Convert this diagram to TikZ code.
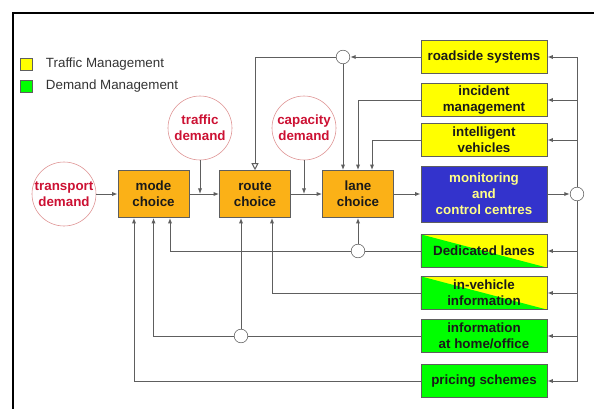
\documentclass[tikz,border=0pt]{standalone}
\usepackage{fontspec}
\setmainfont{Liberation Sans}
\usetikzlibrary{arrows.meta,calc,positioning}

\definecolor{boxorange}{HTML}{FBB117}
\definecolor{boxblue}{HTML}{3333CC}
\definecolor{boxyellow}{HTML}{FFFF00}
\definecolor{boxgreen}{HTML}{00FF00}
\definecolor{montext}{HTML}{FFFF88}
\definecolor{demandred}{HTML}{CC1133}
\definecolor{demandring}{HTML}{DD8F8F}
\definecolor{linegray}{HTML}{5E5E5E}
\definecolor{inktext}{HTML}{1A1A1A}

\tikzset{
  lbl/.style={font=\fontsize{9.5}{11.5}\selectfont\bfseries, align=center, inner sep=0pt, text=inktext},
  choice/.style={lbl, draw=linegray, fill=boxorange, minimum width=1.775cm, minimum height=1.175cm},
  measure/.style={lbl, draw=linegray, minimum width=3.15cm, minimum height=0.83cm},
  demand/.style={lbl, circle, draw=demandring, text=demandred, minimum size=1.6cm},
  hub/.style={circle, draw=linegray, fill=white, minimum size=0.34cm, inner sep=0pt},
  split/.style={path picture={\fill[boxgreen] (path picture bounding box.south west)
      -- (path picture bounding box.north west) -- (path picture bounding box.south east) -- cycle;}},
  plain/.style={draw=linegray, line width=0.7pt},
  link/.style={plain, -{Latex[length=4pt,width=3pt]}},
  openlink/.style={plain, -{Triangle[open,length=5pt,width=5pt]}},
  keybox/.style={draw=linegray, minimum size=0.31cm, inner sep=0pt},
  keytext/.style={font=\fontsize{9.5}{11.5}\selectfont, text=black!80, inner sep=0pt},
}

\begin{document}
\begin{tikzpicture}[x=0.025cm, y=-0.025cm]
    \useasboundingbox (0,0) rectangle (594,409);

    % Frame
    \draw[line width=2.1pt] (600,13) -- (13,13) -- (13,415);

    % Legend
    \node[keybox, fill=boxyellow] (keytm) at (26,64) {};
    \node[keytext, right=0.33cm of keytm] (keytmtext) {Traffic Management};
    \node[keybox, fill=boxgreen] (keydm) at (26,86) {};
    \node[keytext, right=0.33cm of keydm] (keydmtext) {Demand Management};

    % Demand circles
    \node[demand] (transport) at (64,194) {transport\\demand};
    \node[demand] (traffic) at (200,128) {traffic\\demand};
    \node[demand] (capacity) at (304,128) {capacity\\demand};

    % Choice boxes
    \node[choice] (mode) at (153.5,194) {mode\\choice};
    \node[choice] (route) at (255,194) {route\\choice};
    \node[choice] (lane) at (358,194) {lane\\choice};

    % Measures
    \node[measure, fill=boxyellow] (roadside) at (484,57) {roadside systems};
    \node[measure, fill=boxyellow] (incident) at (484,100) {incident\\management};
    \node[measure, fill=boxyellow] (intelligent) at (484,140) {intelligent\\vehicles};
    \node[measure, fill=boxblue, text=montext, minimum height=1.4cm] (monitoring) at (484,194) {monitoring\\and\\control centres};
    \node[measure, fill=boxyellow, split] (dedicated) at (484,251) {Dedicated lanes};
    \node[measure, fill=boxyellow, split] (invehicle) at (484,293) {in-vehicle\\information};
    \node[measure, fill=boxgreen] (home) at (484,336) {information\\at home/office};
    \node[measure, fill=boxgreen] (pricing) at (484,381) {pricing schemes};

    % Junctions
    \node[hub] (bus) at (577,194) {};
    \node[hub] (hubtop) at (343,57) {};
    \node[hub] (hublane) at (lane.south |- dedicated.west) {};
    \node[hub] (hubroute) at (241,336) {};

    % Main chain
    \draw[link] (transport) -- (mode);
    \draw[link] (mode) -- (route);
    \draw[link] (route) -- (lane);
    \draw[link] (lane) -- (monitoring);
    \draw[link] (traffic) -- (traffic |- mode.east);
    \draw[link] (capacity) -- (capacity |- route.east);

    % Upper feedback
    \draw[link] (roadside) -- (hubtop);
    \draw[openlink] (hubtop) -| (route.north);
    \draw[link] (hubtop) -- (hubtop |- lane.north);
    \draw[link] (incident) -| (lane.north);
    \draw[link] (intelligent) -| ($(lane.north)+(14,0)$);

    % Right bus
    \draw[link] (monitoring) -- (bus);
    \foreach \m in {roadside,incident,intelligent,dedicated,invehicle,home,pricing}
        \draw[link] (bus) |- (\m);

    % Lower feedback
    \draw[plain] (dedicated) -- (hublane);
    \draw[link] (hublane) -| ($(mode.south)+(16.5,0)$);
    \draw[link] (hublane) -- (lane.south);
    \draw[link] (invehicle) -| ($(route.south)+(17,0)$);
    \draw[plain] (home) -- (hubroute);
    \draw[link] (hubroute) -| (mode.south);
    \draw[link] (hubroute) -- (hubroute |- route.south);
    \draw[link] (pricing) -| ($(mode.south)+(-19.5,0)$);
\end{tikzpicture}
\end{document}
